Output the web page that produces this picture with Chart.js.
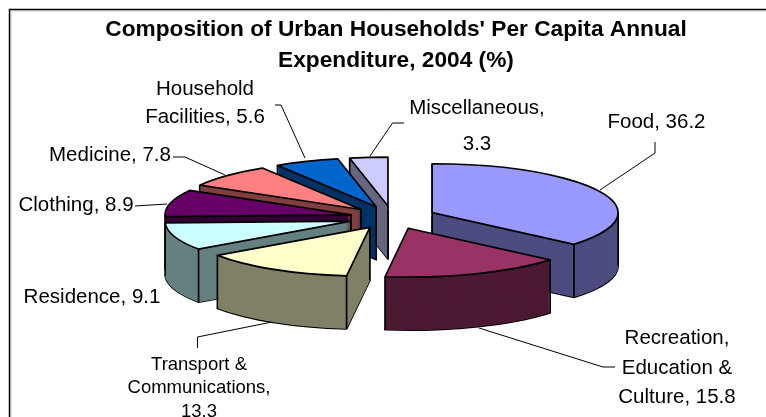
<!DOCTYPE html>
<html><head><meta charset="utf-8">
<style>html,body{margin:0;padding:0;background:#fff}canvas{display:block}</style>
<script src="https://cdn.jsdelivr.net/npm/chart.js@4"></script>
</head><body><div style="width:766px;height:417px"><canvas id="c" width="766" height="417"></canvas></div>
<script>
const categories = ["Food","Recreation, Education & Culture","Transport & Communications","Residence","Clothing","Medicine","Household Facilities","Miscellaneous"];
const values = [36.2,15.8,13.3,9.1,8.9,7.8,5.6,3.3];
const topColors = ["#9999FF","#993366","#FFFFCC","#CCFFFF","#660066","#FF8080","#0066CC","#CCCCFF"];
const sideColors = ["#4D4D80","#4D1A33","#808066","#668080","#330033","#804040","#003366","#666680"];
const titleLines = ["Composition of Urban Households' Per Capita Annual","Expenditure, 2004 (%)"];
const labelLines = [["Food, 36.2"],["Recreation,","Education &","Culture, 15.8"],["Transport &","Communications,","13.3"],["Residence, 9.1"],["Clothing, 8.9"],["Medicine, 7.8"],["Household","Facilities, 5.6"],["Miscellaneous,","3.3"]];
const labelCentres = [[656.5,122],[677,368],[199,388],[92,297],[76,205],[110,155],[205,103],[477,126]];
const labelSizes = [20.5,20.5,18.5,20.5,20.5,20.5,20.5,20.5];
const labelLeading = [0,29.5,23.5,0,0,0,28,36];
const leaders = [[[600,190],[655,153],[655,142]],[[479,328],[603,367],[615,367]],[[272,322],[197.5,337],[197.5,348]],[[167,204],[135,206]],[[225,175],[185,157],[173,157]],[[305,158],[281,105],[275,105]],[[370,156],[392.5,123],[404,123]]];
const drawOrder = [7,6,5,4,3,0,1,2];
const centre = {x:392.5,y:217.5}, squash = 0.263, depth = 53;
const sliceExplode = [43.7,43.7,43.7,43.7,42.7,43.7,43.7,43.7];

function geom(el,i){
  const p = el.getProps(['startAngle','endAngle','outerRadius']);
  const mid = (p.startAngle+p.endAngle)/2, d = sliceExplode[i];
  return {s:p.startAngle,e:p.endAngle,r:p.outerRadius,
    ax:centre.x+Math.cos(mid)*d, ay:centre.y+Math.sin(mid)*d*squash};
}
function onRim(g,a,dy){return [g.ax+Math.cos(a)*g.r, g.ay+Math.sin(a)*g.r*squash+dy];}
function slicePath(ctx,g,dy){
  ctx.beginPath();ctx.moveTo(g.ax,g.ay+dy);
  ctx.ellipse(g.ax,g.ay+dy,g.r,g.r*squash,0,g.s,g.e);
  ctx.closePath();
}
function paint(ctx,el,g,dy,color){
  const keep = el.options.backgroundColor;
  el.options.backgroundColor = color;
  ctx.save();
  ctx.translate(g.ax,g.ay+dy);
  ctx.scale(1,squash);
  ctx.translate(-el.x,-el.y);
  el.draw(ctx);
  ctx.restore();
  el.options.backgroundColor = keep;
}
const pie3d = {
  id:'pie3d',
  beforeDatasetsDraw(chart){
    const ctx = chart.ctx, arcs = chart.getDatasetMeta(0).data;
    ctx.save();
    ctx.strokeStyle='#000';ctx.lineWidth=1.7;ctx.lineJoin='round';
    for(const i of drawOrder){
      const el=arcs[i], g=geom(el,i);
      slicePath(ctx,g,depth);ctx.stroke();
      for(let dy=depth;dy>0;dy-=0.5) paint(ctx,el,g,dy,sideColors[i]);
      // a vertical edge shows only where the point just below it lies outside the top face
      const verts=[[g.ax,g.ay],onRim(g,g.s,0),onRim(g,g.e,0)];
      for(const a of [0,Math.PI,-Math.PI,2*Math.PI]) if(a>g.s&&a<g.e) verts.push(onRim(g,a,0));
      slicePath(ctx,g,0);
      const shown=verts.filter(v=>!ctx.isPointInPath(v[0],v[1]+2.5));
      ctx.beginPath();
      for(const v of shown){ctx.moveTo(v[0],v[1]);ctx.lineTo(v[0],v[1]+depth);}
      ctx.stroke();
      paint(ctx,el,g,0,topColors[i]);
      slicePath(ctx,g,0);ctx.stroke();
    }
    ctx.restore();
    return false;
  },
  afterDraw(chart){
    const ctx=chart.ctx;
    ctx.save();
    // frame: open at the right and bottom, with a pale edge inside it
    ctx.strokeStyle='#ccc';ctx.lineWidth=1;
    ctx.beginPath();ctx.moveTo(11,417);ctx.lineTo(11,11);ctx.lineTo(766,11);ctx.stroke();
    ctx.strokeStyle='#000';ctx.lineWidth=1.5;
    ctx.beginPath();ctx.moveTo(9.5,417);ctx.lineTo(9.5,9.5);ctx.lineTo(766,9.5);ctx.stroke();
    ctx.lineWidth=1;
    leaders.forEach(l=>{ctx.beginPath();l.forEach((p,i)=>i?ctx.lineTo(p[0],p[1]):ctx.moveTo(p[0],p[1]));ctx.stroke();});
    ctx.fillStyle='#000';ctx.textAlign='center';ctx.textBaseline='middle';
    labelLines.forEach((lines,i)=>{
      ctx.font=labelSizes[i]+'px "Liberation Sans"';
      const top=labelCentres[i][1]-(lines.length-1)*labelLeading[i]/2;
      lines.forEach((t,j)=>ctx.fillText(t,labelCentres[i][0],top+j*labelLeading[i]));
    });
    ctx.restore();
  }
};
new Chart(document.getElementById('c'),{
  type:'pie',
  data:{labels:categories,datasets:[{data:values,backgroundColor:topColors,borderWidth:0,hoverOffset:0}]},
  options:{
    responsive:false,animation:false,radius:186,
    layout:{padding:{left:26,top:14}},
    events:[],
    plugins:{
      legend:{display:false},tooltip:{enabled:false},
      title:{display:true,text:titleLines,color:'#000',padding:0,font:{family:'"Liberation Sans"',size:22.7,weight:'bold',lineHeight:1.36}}
    }
  },
  plugins:[pie3d]
});
</script></body></html>
